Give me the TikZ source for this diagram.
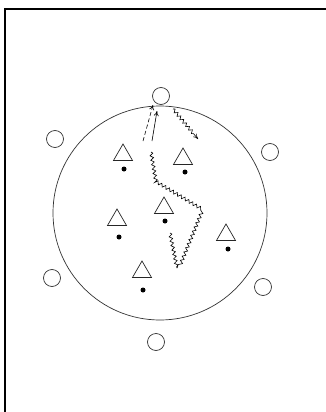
\documentclass[tikz,border=0pt]{standalone}
\usetikzlibrary{shapes.geometric,decorations.pathmorphing,arrows.meta}
\begin{document}
\begin{tikzpicture}[x=1pt,y=-1pt,
  posn/.style={draw=black!80,circle,line width=0.7pt,minimum size=17pt,inner sep=0pt},
  tri/.style={draw=black!85,regular polygon,regular polygon sides=3,line width=0.7pt,minimum size=22pt,inner sep=0pt},
  ball/.style={fill=black,circle,minimum size=5pt,inner sep=0pt},
  wave/.style={decorate,decoration={snake,amplitude=1.6pt,segment length=4.5pt},line width=0.6pt},
  arr/.style={-{To[length=5pt,width=5pt]},line width=0.6pt}]
\useasboundingbox (0,0) rectangle (326,412);
% frame
\draw[line width=1.3pt] (326,9) -- (5,9) -- (5,412);
% big circle
\node[draw=black!80,circle,line width=0.7pt,minimum size=214pt,inner sep=0pt] (field) at (160,213) {};
% outer circles
\node[posn] (c1) at (161,96) {};
\node[posn] (c2) at (55,139) {};
\node[posn] (c3) at (270,152) {};
\node[posn] (c4) at (263,287) {};
\node[posn] (c5) at (52,278) {};
\node[posn] (c6) at (156,342) {};
% triangles
\node[tri] (t1) at (123,155) {};
\node[tri] (t2) at (183,159) {};
\node[tri] (t3) at (164,208) {};
\node[tri] (t4) at (117,220) {};
\node[tri] (t5) at (142,272) {};
\node[tri] (t6) at (226,235) {};
% balls
\node[ball] (d1) at (124,169) {};
\node[ball] (d2) at (185,172) {};
\node[ball] (d3) at (165,221) {};
\node[ball] (d4) at (119,237) {};
\node[ball] (d5) at (143,290) {};
\node[ball] (d6) at (228,249) {};
% coordinates
\coordinate (a1s) at (143,141);
\coordinate (a1e) at (153,105);
\coordinate (a2s) at (152,141);
\coordinate (a2e) at (157,111);
\coordinate (w1s) at (173,109);
\coordinate (w1e) at (198,139);
\coordinate (p1) at (151,152);
\coordinate (p2) at (156,182);
\coordinate (p3) at (201,209);
\coordinate (p4) at (177,268);
\coordinate (p5) at (170,233);
% arrows
\draw[arr,dash pattern=on 4pt off 2.5pt] (a1s) -- (a1e);
\draw[arr] (a2s) -- (a2e);
\draw[wave,arr,decoration={post length=5pt}] (w1s) -- (w1e);
\draw[wave] (p1) -- (p2) -- (p3) -- (p4);
\draw[wave] (p5) -- (p4);
\end{tikzpicture}
\end{document}
